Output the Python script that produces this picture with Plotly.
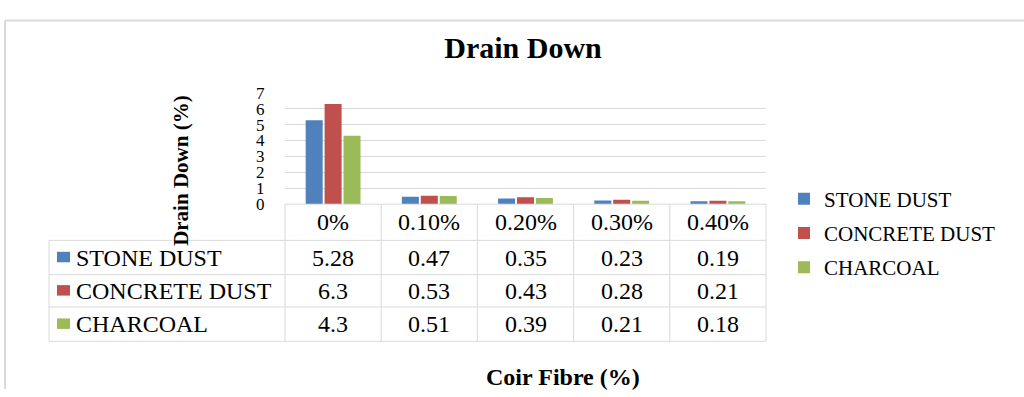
import plotly.graph_objects as go

# Drain-down results for each filler at different coir fibre contents
fibre = ["0%", "0.10%", "0.20%", "0.30%", "0.40%"]
stone_dust = [5.28, 0.47, 0.35, 0.23, 0.19]
concrete_dust = [6.3, 0.53, 0.43, 0.28, 0.21]
charcoal = [4.3, 0.51, 0.39, 0.21, 0.18]
series_names = ["STONE DUST", "CONCRETE DUST", "CHARCOAL"]
series_values = [stone_dust, concrete_dust, charcoal]
series_colors = ["#4F81BD", "#C0504D", "#9BBB59"]
y_ticks = [0, 1, 2, 3, 4, 5, 6, 7]

# Page geometry (pixels) and helpers to convert into paper coordinates
W, H = 1024, 397


def px(x):
    return x / W


def py(y):
    return 1 - y / H


PLOT_L, PLOT_R = 285, 766
PLOT_TOP, PLOT_BOT = 88, 205
TABLE_L = 49
ROW_LINES = [243, 279, 313, 349]
LINE_COLOR = "#D9D9D9"
SERIF = "Liberation Serif"


def serif(size):
    return dict(family=SERIF, size=size, color="black")


fig = go.Figure()
for name, vals, color in zip(series_names, series_values, series_colors):
    fig.add_trace(go.Bar(
        x=fibre, y=vals, name=name, legendgroup=name,
        marker=dict(color=color, line=dict(width=0)),
        hoverinfo="x+y+name",
    ))

shapes = []


def hline(x0, x1, y, color=LINE_COLOR, width=1):
    shapes.append(dict(type="line", xref="paper", yref="paper",
                       x0=px(x0), x1=px(x1), y0=py(y), y1=py(y),
                       line=dict(color=color, width=width)))


def vline(x, y0, y1, color=LINE_COLOR, width=1):
    shapes.append(dict(type="line", xref="paper", yref="paper",
                       x0=px(x), x1=px(x), y0=py(y0), y1=py(y1),
                       line=dict(color=color, width=width)))


# Chart frame
hline(5, W + 2, 12, width=2)
vline(5, 12, H + 2, width=2)

# Data table grid under the plot
n_cols = len(fibre)
col_w = (PLOT_R - PLOT_L) / n_cols
hline(PLOT_L, PLOT_R, PLOT_BOT)
for yl in ROW_LINES:
    hline(TABLE_L, PLOT_R, yl)
for i in range(n_cols + 1):
    vline(PLOT_L + i * col_w, PLOT_BOT, ROW_LINES[-1])
vline(TABLE_L, ROW_LINES[0], ROW_LINES[-1])

annotations = []


def cell_text(x, y, text, anchor="center"):
    annotations.append(dict(
        xref="paper", yref="paper", x=px(x), y=py(y), text=text,
        showarrow=False, xanchor=anchor, yanchor="middle",
        font=serif(24)))


# Header row with fibre contents
header_mid = (PLOT_BOT + ROW_LINES[0]) / 2
for i, label in enumerate(fibre):
    cell_text(PLOT_L + (i + 0.5) * col_w, header_mid, label)

# Series rows: colour key, name and values
for r, (name, vals, color) in enumerate(zip(series_names, series_values, series_colors)):
    top, bot = ROW_LINES[r], ROW_LINES[r + 1]
    mid = (top + bot) / 2
    shapes.append(dict(type="rect", xref="paper", yref="paper",
                       x0=px(57), x1=px(70), y0=py(mid + 5), y1=py(mid - 6),
                       fillcolor=color, line=dict(width=0)))
    cell_text(74, mid, name, anchor="left")
    for i, v in enumerate(vals):
        cell_text(PLOT_L + (i + 0.5) * col_w, mid, str(v))

# Axis titles
annotations.append(dict(
    xref="paper", yref="paper", x=px(181), y=py(170),
    text="<b>Drain Down (%)</b>", textangle=-90, showarrow=False,
    xanchor="center", yanchor="middle", font=serif(21)))
annotations.append(dict(
    xref="paper", yref="paper", x=px(563), y=py(386),
    text="<b>Coir Fibre (%)</b>", showarrow=False,
    xanchor="center", yanchor="middle", font=serif(24)))

fig.update_layout(
    width=W, height=H,
    margin=dict(l=0, r=0, t=0, b=0),
    paper_bgcolor="white", plot_bgcolor="white",
    font=serif(18),
    title=dict(text="<b>Drain Down</b>", x=px(523), y=py(47),
               xanchor="center", yanchor="middle", font=serif(30)),
    barmode="group", bargap=0.41, bargroupgap=0.1,
    xaxis=dict(domain=[px(PLOT_L), px(PLOT_R)], type="category",
               showticklabels=False, showgrid=False, zeroline=False,
               showline=False, ticks="", fixedrange=True),
    yaxis=dict(domain=[py(PLOT_BOT), py(PLOT_TOP)], range=[0, 7],
               tickmode="array", tickvals=y_ticks,
               showgrid=True, gridcolor=LINE_COLOR, gridwidth=1,
               zeroline=False, showline=False,
               ticks="outside", ticklen=16, tickcolor="rgba(0,0,0,0)",
               tickfont=serif(17), fixedrange=True),
    legend=dict(x=px(784), y=py(178), xanchor="left", yanchor="top",
                font=serif(21), bgcolor="rgba(0,0,0,0)",
                tracegroupgap=4, traceorder="grouped"),
    shapes=shapes,
    annotations=annotations,
)

fig.write_html("out.html")
